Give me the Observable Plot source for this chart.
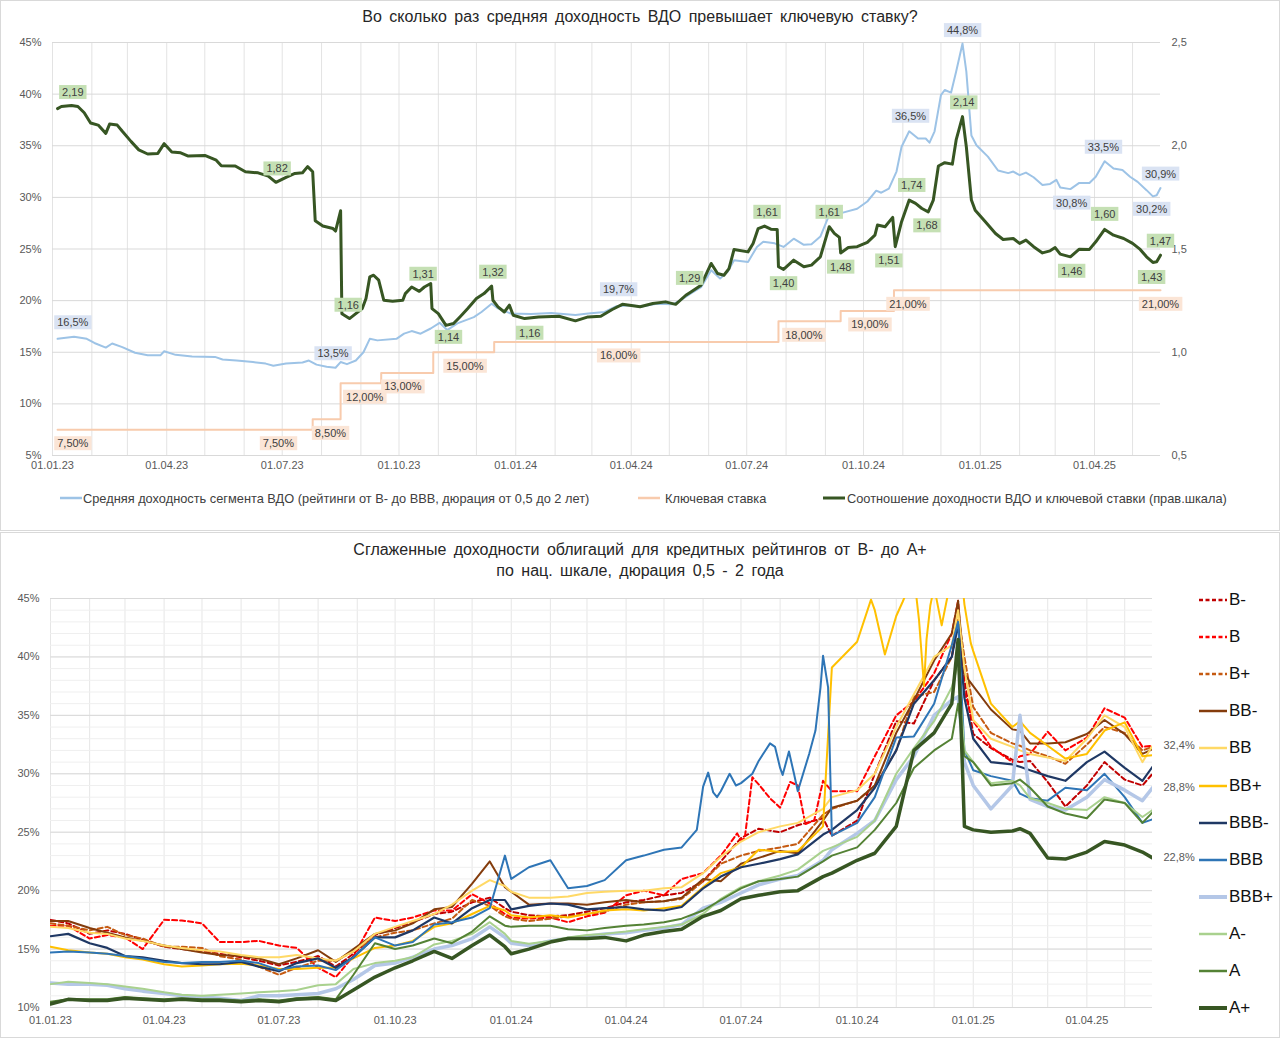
<!DOCTYPE html>
<html><head><meta charset="utf-8">
<script src="https://cdn.jsdelivr.net/npm/d3@7"></script>
<script src="https://cdn.jsdelivr.net/npm/@observablehq/plot@0.6"></script>
<style>
body{margin:0;background:#fff;font-family:"Liberation Sans",Arial,sans-serif;}
#wrap{position:relative;width:1280px;height:1038px;overflow:hidden;background:#fff;}
.box{position:absolute;left:0;width:1280px;border:1px solid #d9d9d9;box-sizing:border-box;}
.title{position:absolute;left:0;width:1280px;text-align:center;font-size:16px;color:#262626;word-spacing:3px;}
.abs{position:absolute;}
.leg1{position:absolute;top:489px;font-size:12.8px;color:#404040;display:flex;align-items:center;white-space:nowrap;}
.leg2{position:absolute;left:1199px;font-size:17px;color:#111;display:flex;align-items:center;white-space:nowrap;}
</style></head>
<body><div id="wrap">
<div class="box" style="top:0;height:531px"></div>
<div class="box" style="top:532px;height:506px"></div>
<div class="title" style="top:8px">Во сколько раз средняя доходность ВДО превышает ключевую ставку?</div>
<div id="p1" class="abs" style="top:30px;left:0"></div>
<div id="leg1"></div>
<div class="title" style="top:539px;line-height:21px">Сглаженные доходности облигаций для кредитных рейтингов от B- до A+<br>по нац. шкале, дюрация 0,5 - 2 года</div>
<div id="p2" class="abs" style="top:585px;left:0"></div>
<div id="leg2"></div>
</div>
<script>
// ---------- TOP CHART DATA ----------
const avgYield = [["2023-01-05",16.3],["2023-01-18",16.5],["2023-01-28",16.3],["2023-02-03",15.9],["2023-02-12",15.45],["2023-02-17",15.85],["2023-02-25",15.5],["2023-03-07",14.95],["2023-03-17",14.7],["2023-03-27",14.7],["2023-03-30",15.1],["2023-04-08",14.75],["2023-04-21",14.6],["2023-05-09",14.55],["2023-05-15",14.3],["2023-05-26",14.2],["2023-06-08",14.05],["2023-06-18",13.9],["2023-06-24",13.7],["2023-07-04",13.9],["2023-07-17",14.0],["2023-07-22",14.2],["2023-07-28",13.8],["2023-08-05",13.6],["2023-08-12",13.5],["2023-08-16",14.05],["2023-08-21",13.85],["2023-08-28",14.2],["2023-09-03",15.0],["2023-09-08",16.3],["2023-09-14",16.15],["2023-09-29",16.3],["2023-10-05",16.8],["2023-10-11",17.05],["2023-10-18",16.8],["2023-10-26",17.3],["2023-11-02",17.85],["2023-11-08",17.15],["2023-11-16",17.8],["2023-11-29",18.4],["2023-12-05",18.9],["2023-12-13",19.7],["2023-12-18",19.25],["2023-12-28",18.75],["2024-01-13",18.7],["2024-01-29",18.8],["2024-02-17",18.6],["2024-02-27",18.75],["2024-03-11",18.9],["2024-03-20",19.45],["2024-04-01",19.55],["2024-04-08",19.4],["2024-04-21",19.7],["2024-05-04",19.65],["2024-05-10",20.05],["2024-05-18",20.7],["2024-05-26",21.3],["2024-06-03",22.95],["2024-06-10",22.15],["2024-06-16",22.8],["2024-06-21",23.9],["2024-07-02",23.75],["2024-07-09",25.2],["2024-07-14",25.7],["2024-07-23",25.55],["2024-07-30",25.2],["2024-08-07",26.0],["2024-08-15",25.4],["2024-08-21",25.45],["2024-08-28",26.2],["2024-09-04",28.3],["2024-09-10",28.1],["2024-09-14",28.5],["2024-09-26",28.9],["2024-10-04",29.6],["2024-10-11",30.65],["2024-10-15",30.45],["2024-10-21",30.85],["2024-10-27",32.5],["2024-10-31",34.9],["2024-11-06",36.4],["2024-11-13",35.7],["2024-11-19",35.7],["2024-11-22",35.3],["2024-11-26",36.4],["2024-12-01",39.9],["2024-12-04",40.4],["2024-12-09",40.15],["2024-12-13",42.2],["2024-12-18",44.9],["2024-12-21",42.2],["2024-12-25",36.0],["2024-12-29",35.05],["2025-01-07",33.95],["2025-01-15",32.6],["2025-01-23",32.35],["2025-01-27",32.5],["2025-02-01",32.15],["2025-02-06",32.4],["2025-02-12",31.95],["2025-02-19",31.2],["2025-02-25",31.3],["2025-03-02",31.7],["2025-03-05",30.95],["2025-03-13",30.8],["2025-03-20",31.4],["2025-03-28",31.4],["2025-04-02",32.0],["2025-04-09",33.5],["2025-04-16",32.8],["2025-04-23",32.65],["2025-04-29",32.0],["2025-05-05",31.5],["2025-05-12",30.7],["2025-05-17",30.1],["2025-05-20",30.2],["2025-05-23",30.9]];

const keyRate = [["2023-01-05",7.5],["2023-07-25",8.5],["2023-08-16",12],["2023-09-17",13],["2023-10-28",15],["2023-12-15",16],["2024-07-26",18],["2024-09-13",19],["2024-10-25",21],["2025-05-23",21]];

const yieldToRate = [["2023-01-05",2.18],["2023-01-08",2.19],["2023-01-16",2.195],["2023-01-21",2.19],["2023-01-26",2.16],["2023-01-31",2.11],["2023-02-06",2.10],["2023-02-12",2.06],["2023-02-15",2.105],["2023-02-21",2.10],["2023-02-25",2.07],["2023-03-04",2.02],["2023-03-10",1.98],["2023-03-17",1.96],["2023-03-25",1.963],["2023-03-30",2.01],["2023-04-05",1.97],["2023-04-12",1.966],["2023-04-18",1.95],["2023-05-01",1.953],["2023-05-10",1.93],["2023-05-14",1.903],["2023-05-25",1.902],["2023-06-02",1.874],["2023-06-12",1.869],["2023-06-20",1.853],["2023-06-26",1.823],["2023-07-04",1.847],["2023-07-11",1.866],["2023-07-17",1.869],["2023-07-21",1.899],["2023-07-25",1.874],["2023-07-27",1.637],["2023-08-02",1.611],["2023-08-10",1.599],["2023-08-12",1.587],["2023-08-16",1.685],["2023-08-17",1.187],["2023-08-23",1.163],["2023-08-28",1.187],["2023-09-02",1.211],["2023-09-05",1.26],["2023-09-08",1.365],["2023-09-11",1.373],["2023-09-15",1.349],["2023-09-19",1.252],["2023-09-26",1.247],["2023-10-04",1.252],["2023-10-06",1.284],["2023-10-11",1.316],["2023-10-17",1.295],["2023-10-21",1.316],["2023-10-26",1.333],["2023-10-27",1.211],["2023-11-01",1.187],["2023-11-07",1.13],["2023-11-13",1.139],["2023-11-18",1.171],["2023-11-24",1.211],["2023-12-01",1.26],["2023-12-07",1.284],["2023-12-13",1.32],["2023-12-14",1.252],["2023-12-18",1.22],["2023-12-23",1.195],["2023-12-27",1.228],["2023-12-30",1.179],["2024-01-08",1.163],["2024-01-19",1.171],["2024-02-04",1.174],["2024-02-17",1.152],["2024-02-27",1.171],["2024-03-08",1.174],["2024-03-17",1.207],["2024-03-25",1.232],["2024-04-08",1.22],["2024-04-18",1.236],["2024-04-28",1.244],["2024-05-06",1.232],["2024-05-14",1.276],["2024-05-18",1.292],["2024-05-26",1.325],["2024-06-03",1.43],["2024-06-08",1.381],["2024-06-13",1.373],["2024-06-17",1.405],["2024-06-21",1.498],["2024-07-02",1.486],["2024-07-06",1.527],["2024-07-10",1.599],["2024-07-15",1.611],["2024-07-20",1.596],["2024-07-25",1.595],["2024-07-26",1.414],["2024-07-30",1.401],["2024-08-07",1.446],["2024-08-15",1.414],["2024-08-21",1.422],["2024-08-28",1.462],["2024-09-04",1.608],["2024-09-08",1.576],["2024-09-12",1.556],["2024-09-13",1.481],["2024-09-19",1.507],["2024-09-26",1.511],["2024-10-04",1.532],["2024-10-10",1.567],["2024-10-12",1.616],["2024-10-18",1.608],["2024-10-24",1.653],["2024-10-26",1.511],["2024-10-31",1.632],["2024-11-06",1.737],["2024-11-11",1.721],["2024-11-16",1.696],["2024-11-21",1.68],["2024-11-25",1.737],["2024-11-29",1.902],["2024-12-04",1.918],["2024-12-10",1.911],["2024-12-13",2.028],["2024-12-18",2.141],["2024-12-21",1.996],["2024-12-25",1.737],["2024-12-28",1.688],["2025-01-05",1.632],["2025-01-13",1.575],["2025-01-19",1.546],["2025-01-27",1.551],["2025-02-01",1.527],["2025-02-06",1.543],["2025-02-12",1.511],["2025-02-19",1.481],["2025-02-25",1.491],["2025-03-01",1.507],["2025-03-05",1.475],["2025-03-13",1.462],["2025-03-20",1.499],["2025-03-28",1.498],["2025-04-02",1.535],["2025-04-09",1.595],["2025-04-16",1.567],["2025-04-24",1.551],["2025-05-01",1.527],["2025-05-07",1.498],["2025-05-12",1.462],["2025-05-17",1.435],["2025-05-20",1.438],["2025-05-23",1.47]];

// data labels: [date, value, a = above / b = below]
const avgLabels = [["2023-01-17",16.5,"a"],["2023-08-10",13.5,"a"],["2024-03-22",19.7,"a"],["2024-11-07",36.5,"a"],["2024-12-18",44.8,"a"],["2025-03-14",30.8,"b"],["2025-04-08",33.5,"a"],["2025-05-16",30.2,"b"],["2025-05-23",30.9,"a"]];
const ratioLabels = [["2023-01-17",2.19,"a"],["2023-06-27",1.82,"a"],["2023-08-22",1.16,"a"],["2023-10-20",1.31,"a"],["2023-11-09",1.14,"b"],["2023-12-14",1.32,"a"],["2024-01-12",1.16,"b"],["2024-05-17",1.29,"a"],["2024-07-17",1.61,"a"],["2024-07-30",1.40,"b"],["2024-09-04",1.61,"a"],["2024-09-13",1.48,"b"],["2024-10-21",1.51,"b"],["2024-11-08",1.74,"a"],["2024-11-20",1.68,"b"],["2024-12-19",2.14,"a"],["2025-03-14",1.46,"b"],["2025-04-09",1.60,"a"],["2025-05-23",1.47,"a"],["2025-05-16",1.43,"b"]];
const rateLabels = [["2023-01-17",7.5,"b"],["2023-06-28",7.5,"b"],["2023-08-08",8.5,"b"],["2023-09-04",12,"b"],["2023-10-04",13,"b"],["2023-11-22",15,"b"],["2024-03-22",16,"b"],["2024-08-15",18,"b"],["2024-10-06",19,"b"],["2024-11-05",21,"b"],["2025-05-23",21,"b"]];

const topLeftTicks = [5,10,15,20,25,30,35,40,45];
const topRightTicks = [0.5,1.0,1.5,2.0,2.5];
const xTickDates = ["2023-01-01","2023-04-01","2023-07-01","2023-10-01","2024-01-01","2024-04-01","2024-07-01","2024-10-01","2025-01-01","2025-04-01"];
const topLegend = ["Средняя доходность сегмента ВДО (рейтинги от В- до ВВВ, дюрация от 0,5 до 2 лет)","Ключевая ставка","Соотношение доходности ВДО и ключевой ставки (прав.шкала)"];

// ---------- BOTTOM CHART DATA ----------
const gridDates = ["2023-01-01","2023-01-15","2023-02-01","2023-02-15","2023-03-01","2023-03-15",
"2023-04-01","2023-04-15","2023-05-01","2023-05-15","2023-06-01","2023-06-15",
"2023-07-01","2023-07-15","2023-08-01","2023-08-15","2023-08-29","2023-09-15",
"2023-10-01","2023-10-15","2023-11-01","2023-11-15","2023-12-01","2023-12-15",
"2023-12-27","2024-01-01","2024-01-15","2024-02-01","2024-02-15","2024-03-01",
"2024-03-15","2024-04-01","2024-04-15","2024-05-01","2024-05-15","2024-06-01",
"2024-06-15","2024-07-01","2024-07-15","2024-08-01","2024-08-15","2024-09-04",
"2024-09-11","2024-10-01","2024-10-15","2024-11-01","2024-11-15","2024-12-01",
"2024-12-15","2024-12-20","2024-12-25","2025-01-01","2025-01-15","2025-02-01",
"2025-02-07","2025-02-15","2025-03-01","2025-03-15","2025-04-01","2025-04-15",
"2025-05-01","2025-05-15","2025-05-23"];
const ratings = ["B-","B","B+","BB-","BB","BB+","BBB-","BBB","BBB+","A-","A","A+"];
const bMinus = [17.5,17.2,16.3,16.6,16.3,15.8, 15.2,15.0,14.8,14.6,14.3,14.0, 13.6,13.9,14.4,13.5,14.6,16.2, 16.8,17.3,18.0,18.2,19.0,19.4, 18.5,18.2,17.9,17.8,17.9,18.2, 18.5,19.0,19.2,19.6,19.8,20.8, 22.5,24.5,25.3,25.0,25.6,26.2, 24.7,26.0,30.0,34.5,34.3,38.0, 40.0,43.0,38.0,33.4,32.2,31.2, 31.0,31.1,29.3,27.2,29.0,31.0, 29.5,29.0,30.0];
const b = [17.0,17.0,15.9,16.2,16.0,15.0, 17.5,17.45,17.2,15.6,15.6,15.7, 15.3,15.1,13.4,12.6,14.4,17.7, 17.4,17.7,18.3,18.3,19.7,18.9, 18.0,17.7,17.6,17.7,17.3,17.8, 18.1,19.6,20.0,19.6,21.0,21.5, 23.0,24.3,29.1,27.1,29.0,29.4, 28.5,28.5,31.5,35.0,36.2,38.6, 42.0,44.8,37.0,34.5,32.3,31.0, 31.5,31.7,33.6,32.0,33.1,35.6, 34.8,32.3,32.4];
const bPlus = [17.2,17.0,16.6,16.9,16.2,15.9, 15.2,15.2,15.1,14.4,14.1,13.5, 12.8,13.4,14.0,14.0,14.8,16.0, 16.4,16.6,17.2,17.6,19.2,18.7, 17.8,17.6,17.4,17.6,17.8,18.0, 18.2,18.8,19.0,19.1,19.3,20.8, 22.3,23.0,23.4,23.7,24.0,26.5, 27.0,27.7,29.0,32.0,36.6,37.0, 40.0,43.7,40.0,35.7,33.5,32.6, 32.4,32.0,31.5,30.85,32.5,34.0, 33.5,32.0,32.3];
const bbMinus = [17.4,17.4,16.8,16.4,16.0,15.7, 15.3,15.0,14.7,14.5,14.4,14.2, 13.7,14.2,14.9,13.9,15.0,16.3, 16.6,17.2,18.4,18.6,20.6,22.5, 20.3,19.9,18.8,18.9,18.9,18.8, 19.0,19.2,19.0,19.1,19.4,21.0, 20.8,22.3,22.8,23.4,23.2,26.0, 27.1,27.7,29.0,33.5,36.3,39.7, 42.0,44.8,38.5,37.5,35.5,33.8, 33.7,32.6,32.6,32.7,33.4,34.6, 33.4,31.7,32.1];
const bb = [16.9,16.8,16.4,16.3,15.9,15.7, 15.3,15.1,14.9,14.8,14.5,14.3, 14.3,14.5,14.2,14.0,14.8,16.3, 16.9,17.4,18.0,18.8,20.0,20.9, 20.4,19.9,19.4,19.4,19.5,19.8, 19.9,20.0,20.0,20.2,20.3,21.5, 22.9,24.2,25.0,25.5,25.8,27.0, 28.0,28.6,30.0,34.0,36.8,40.0, 41.0,44.0,39.0,34.6,33.0,32.3, 32.0,31.7,31.4,31.1,33.0,35.0, 34.0,31.0,32.4];
const bbPlus = [15.2,14.9,14.7,14.6,14.3,14.1, 13.7,13.5,13.6,13.7,13.75,13.6, 13.3,13.3,13.4,13.4,14.2,15.1, 15.3,15.7,16.9,17.2,18.0,18.7, 18.3,17.9,17.7,17.9,17.7,18.0, 18.3,18.4,18.3,18.5,18.7,20.3, 21.5,22.0,23.5,23.3,23.4,25.5, 39.1,41.3,44.0,43.5,47.0,46.0, 47.0,50.0,44.5,40.5,36.0,34.0, 34.5,33.5,32.4,31.3,31.7,33.7, 34.4,31.5,31.6];
const bbbMinus = [16.1,16.3,15.5,15.1,14.4,14.3, 14.0,13.8,13.7,13.7,13.9,13.5, 13.1,13.8,14.2,13.4,14.3,16.0, 16.0,16.6,17.7,17.2,18.5,19.2, 19.2,18.4,18.7,18.9,18.8,18.4, 18.5,18.6,18.4,18.3,18.6,20.2, 21.2,22.0,22.3,22.7,23.1,24.8, 25.2,26.9,28.8,32.0,36.0,38.0, 40.0,42.8,36.5,33.0,31.0,30.8, 30.6,30.3,29.8,29.4,31.0,31.9, 30.5,29.4,30.6];
const bbb = [14.7,14.8,14.7,14.6,14.4,14.2, 13.9,13.8,13.9,13.9,14.0,13.8, 13.2,13.5,13.6,13.2,14.3,16.0, 15.3,15.6,17.1,17.3,17.7,18.5, 23.0,21.0,22.0,22.6,20.2,20.4, 20.9,22.6,23.0,23.5,23.7,28.9, 28.5,29.2,31.1,30.5,28.5,40.1, 24.7,25.8,28.0,33.1,33.2,36.0, 41.0,43.0,32.0,30.3,29.8,29.4, 28.3,27.9,27.7,28.8,28.6,30.0, 28.0,25.8,26.1];
const bbbPlus = [12.1,12.0,12.0,11.9,11.6,11.4, 11.2,11.0,10.9,10.8,10.6,11.0, 11.0,11.1,11.2,11.6,12.4,13.6, 13.8,14.3,15.0,15.3,15.9,16.9, 16.0,15.5,15.3,15.7,15.9,16.1, 16.3,16.4,16.6,16.8,17.1,18.5, 19.0,19.8,20.5,21.0,21.3,22.6, 23.5,24.9,26.0,29.5,31.5,35.0, 36.3,36.6,31.0,29.0,27.0,29.0, 35.0,27.8,27.2,26.9,28.0,29.5, 28.6,27.7,28.8];
const aMinus = [12.0,12.2,12.1,12.0,11.8,11.6, 11.3,11.1,11.0,11.1,11.2,11.3, 11.4,11.5,11.9,12.0,13.3,13.8, 14.0,14.3,15.4,15.7,16.3,17.3, 16.3,15.7,15.45,15.7,16.0,16.2, 16.3,16.5,16.7,16.9,17.1,18.0, 19.3,20.3,20.8,21.3,21.8,23.4, 23.7,24.6,26.0,30.0,32.2,34.5, 37.4,39.4,32.0,31.0,29.2,29.4, 29.0,27.9,27.5,27.0,26.9,28.0, 27.5,26.3,26.9];
const a = [10.5,10.7,10.7,10.7,10.9,10.8, 10.7,10.8,10.7,10.7,10.6,10.7, 10.6,10.8,10.9,10.7,12.8,15.5, 15.0,15.3,15.9,15.5,16.5,17.8, 17.0,16.9,17.0,17.0,16.7,16.6, 16.8,17.0,17.1,17.3,17.6,18.3, 19.2,20.2,20.8,21.0,21.2,22.5, 23.0,23.7,25.2,27.5,30.5,32.0, 33.0,36.0,31.5,31.0,29.0,29.2, 29.5,28.8,27.2,26.6,26.2,27.8, 27.5,25.8,26.7];
const aPlus = [10.3,10.7,10.6,10.6,10.8,10.7, 10.6,10.7,10.6,10.6,10.5,10.6, 10.5,10.7,10.8,10.6,11.5,12.6, 13.4,14.0,14.8,14.2,15.3,16.2, 15.2,14.6,15.0,15.6,15.9,15.9, 16.0,15.7,16.2,16.5,16.7,17.8, 18.3,19.3,19.6,19.9,20.0,21.2, 21.5,22.6,23.2,25.5,32.0,33.5, 36.0,41.5,25.5,25.2,25.0,25.1, 25.3,24.9,22.8,22.7,23.3,24.2, 23.9,23.3,22.8];
// additional readings between the common dates, for the most volatile lines
const bExtra = [["2024-06-20",23.7],["2024-06-28",24.9],["2024-07-04",24.5],["2024-07-10",29.7],["2024-07-24",27.9],["2024-08-09",29.3],["2024-08-21",25.7],["2024-08-28",26.0]];
const bbPlusExtra = [["2024-10-12",44.9],["2024-10-23",40.2],["2024-11-06",44.7],["2024-11-19",43.2],["2024-11-23",37.5],["2024-11-25",41.5],["2024-11-28",44.4],["2024-12-07",42.7],["2024-12-30",41.2]];
const bbbExtra = [["2024-05-27",25.2],["2024-06-05",30.1],["2024-06-09",28.4],["2024-06-12",28.0],["2024-06-22",30.0],["2024-06-27",29.0],["2024-07-10",30.0],["2024-07-24",32.6],["2024-07-28",32.3],["2024-08-03",29.9],["2024-08-08",31.9],["2024-08-12",30.0],["2024-08-24",31.7],["2024-08-29",33.7],["2024-09-02",37.4],["2024-09-08",37.4]];
const ratingSeries = [bMinus,b,bPlus,bbMinus,bb,bbPlus,bbbMinus,bbb,bbbPlus,aMinus,a,aPlus];
const ratingExtras = [null,bExtra,null,null,null,bbPlusExtra,null,bbbExtra,null,null,null,null];
const endLabelRatings = ["BB","BBB+","A+"];
const bottomTicks = [10,15,20,25,30,35,40,45];

// ---------- STYLES ----------
const FONT = "'Liberation Sans', Arial, sans-serif";
const ratingColors = ["#c00000","#ff0000","#c55a11","#843c0c","#ffd966","#ffc000","#1f3864","#2e75b6","#b4c7e7","#a9d18e","#548235","#375623"];
const ratingWidths = [2,2,2,2,2,2,2.2,2,3.5,2,2,3.5];
const ratingDash = ["5,3","5,3","5,3",null,null,null,null,null,null,null,null,null];

// ---------- HELPERS ----------
const parse = d3.utcParse("%Y-%m-%d");
const fmtDate = d3.utcFormat("%d.%m.%y");
const comma = (v, n) => v.toFixed(n).replace(".", ",");
const r2y = r => 5 + (r - 0.5) * 20;   // right scale -> left scale
const y2r = y => (y - 5) / 20 + 0.5;
const startDate = parse("2023-01-01"), endDate = parse("2025-05-23");
const monthTicks = d3.utcMonth.range(startDate, d3.utcDay.offset(endDate, 1));
const toRows = arr => arr.map(([d, v, p]) => ({date: parse(d), v, p}));

function boxLabels(svg, name, fill) {
  svg.querySelectorAll(`g.${name} text`).forEach(t => {
    const bb = t.getBBox();
    const r = document.createElementNS("http://www.w3.org/2000/svg", "rect");
    r.setAttribute("x", bb.x - 3); r.setAttribute("y", bb.y - 1);
    r.setAttribute("width", bb.width + 6); r.setAttribute("height", bb.height + 2);
    r.setAttribute("fill", fill); r.setAttribute("stroke", "none");
    const tr = t.getAttribute("transform"); if (tr) r.setAttribute("transform", tr);
    t.parentNode.insertBefore(r, t);
  });
}
function labelMarks(rows, yfn, fmt, name) {
  const common = {x: "date", y: d => yfn(d.v), text: d => fmt(d.v), fill: "#404040", fontSize: 11, fontFamily: FONT, className: name};
  return [
    Plot.text(rows.filter(d => d.p === "a"), {...common, dy: -14}),
    Plot.text(rows.filter(d => d.p === "b"), {...common, dy: 14})
  ];
}

// ---------- TOP PLOT ----------
const avgRows = toRows(avgYield), rateRows = toRows(keyRate), ratioRows = toRows(yieldToRate);
const p1 = Plot.plot({
  width: 1280, height: 450,
  marginLeft: 52, marginRight: 120, marginTop: 12, marginBottom: 25,
  style: {fontFamily: FONT, fontSize: "11px", color: "#595959", background: "transparent", overflow: "visible"},
  x: {type: "utc", domain: [startDate, endDate]},
  y: {domain: [5, 45]},
  marks: [
    Plot.gridX(monthTicks, {stroke: "#e3e3e3", strokeOpacity: 1}),
    Plot.gridY(topLeftTicks, {stroke: "#d9d9d9", strokeOpacity: 1}),
    Plot.axisY(topLeftTicks, {tickSize: 0, tickPadding: 11, tickFormat: d => d + "%", label: null}),
    Plot.axisY(topRightTicks.map(r2y), {anchor: "right", tickSize: 0, tickPadding: 11, tickFormat: y => comma(y2r(y), 1), label: null}),
    Plot.axisX(xTickDates.map(parse), {tickSize: 0, tickPadding: 6, tickFormat: fmtDate, label: null}),
    Plot.line(rateRows, {x: "date", y: "v", curve: "step-after", stroke: "#f8cbad", strokeWidth: 2}),
    Plot.line(avgRows, {x: "date", y: "v", stroke: "#9dc3e6", strokeWidth: 2}),
    Plot.line(ratioRows, {x: "date", y: d => r2y(d.v), stroke: "#375623", strokeWidth: 3}),
    ...labelMarks(toRows(rateLabels), v => v, v => comma(v, 2) + "%", "lbl-rate"),
    ...labelMarks(toRows(avgLabels), v => v, v => comma(v, 1) + "%", "lbl-avg"),
    ...labelMarks(toRows(ratioLabels), r2y, v => comma(v, 2), "lbl-ratio")
  ]
});
document.getElementById("p1").appendChild(p1);
boxLabels(p1, "lbl-rate", "#fbe5d6");
boxLabels(p1, "lbl-avg", "#dae3f3");
boxLabels(p1, "lbl-ratio", "#c5e0b4");

// top legend
const leg1Colors = ["#9dc3e6", "#f8cbad", "#375623"];
const leg1Left = [60, 638, 823];
const leg1Gap = [1, 5, 2];
const leg1 = document.getElementById("leg1");
topLegend.forEach((t, i) => {
  const d = document.createElement("div");
  d.className = "leg1"; d.style.left = leg1Left[i] + "px";
  d.innerHTML = `<svg width="22" height="18"><line x1="0" x2="22" y1="9" y2="9" stroke="${leg1Colors[i]}" stroke-width="${i === 2 ? 3 : 2.5}"/></svg><span style="margin-left:${leg1Gap[i]}px">${t}</span>`;
  leg1.appendChild(d);
});

// ---------- BOTTOM PLOT ----------
const seriesRows = ratingSeries.map((s, i) => {
  const rows = gridDates.map((d, j) => ({date: parse(d), v: s[j]}));
  if (ratingExtras[i]) ratingExtras[i].forEach(([d, v]) => rows.push({date: parse(d), v}));
  return rows.sort((p, q) => p.date - q.date);
});
const endRows = endLabelRatings.map(n => seriesRows[ratings.indexOf(n)].at(-1));
const p2 = Plot.plot({
  width: 1280, height: 447,
  marginLeft: 50, marginRight: 128, marginTop: 13, marginBottom: 25,
  style: {fontFamily: FONT, fontSize: "11px", color: "#595959", background: "transparent", overflow: "visible"},
  x: {type: "utc", domain: [startDate, endDate]},
  y: {domain: [10, 45]},
  marks: [
    Plot.gridX(monthTicks, {stroke: "#e6e6e6", strokeOpacity: 1}),
    Plot.gridY(d3.range(10, 46), {stroke: "#efefef", strokeOpacity: 1}),
    Plot.gridY(bottomTicks, {stroke: "#d9d9d9", strokeOpacity: 1}),
    Plot.axisY(bottomTicks, {tickSize: 0, tickPadding: 11, tickFormat: d => d + "%", label: null}),
    Plot.axisX(xTickDates.map(parse), {tickSize: 0, tickPadding: 9, tickFormat: fmtDate, label: null}),
    ...seriesRows.map((rows, i) => Plot.line(rows, {x: "date", y: "v", stroke: ratingColors[i], strokeWidth: ratingWidths[i], strokeDasharray: ratingDash[i] || undefined, clip: true})),
    Plot.text(endRows, {x: "date", y: "v", text: d => comma(d.v, 1) + "%", dx: 11, textAnchor: "start", fill: "#595959", fontSize: 11})
  ]
});
document.getElementById("p2").appendChild(p2);

// bottom legend
const leg2 = document.getElementById("leg2");
ratings.forEach((n, i) => {
  const d = document.createElement("div");
  d.className = "leg2"; d.style.top = (589 + i * 37.1) + "px";
  const dash = ratingDash[i] ? `stroke-dasharray="4,2.5"` : "";
  d.innerHTML = `<svg width="28" height="22"><line x1="0" x2="28" y1="11" y2="11" stroke="${ratingColors[i]}" stroke-width="${ratingWidths[i] === 3.5 ? 4 : 2.5}" ${dash}/></svg><span style="margin-left:2px">${n}</span>`;
  leg2.appendChild(d);
});
</script>
</body></html>
